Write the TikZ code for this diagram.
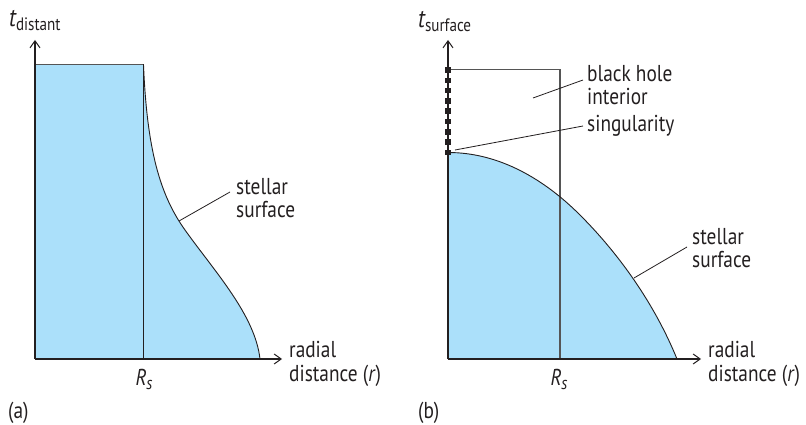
\documentclass[tikz,border=0pt]{standalone}
\usepackage{fontspec}
\setmainfont[FakeStretch=0.84]{PT Sans}
\usetikzlibrary{arrows.meta}
\definecolor{starblue}{RGB}{171,224,250}
\definecolor{ink}{RGB}{35,31,32}
\definecolor{edge}{RGB}{85,85,85}
\newcommand{\lowsub}[1]{\raisebox{-4pt}{\fontsize{18}{18}\selectfont #1}}
\tikzset{
  lbl/.style={inner sep=0pt, align=left, font=\fontsize{23}{23.5}\selectfont, text=ink},
  axis/.style={draw=ink, line width=1.2pt, -{Straight Barb[length=7pt,width=10pt,line width=1pt]}},
  curve/.style={draw=ink, line width=0.9pt},
  leader/.style={draw=ink, line width=0.8pt},
  guide/.style={draw=edge, line width=1.1pt},
  sq/.style={fill=ink, minimum size=5.5pt, inner sep=0pt, draw=none}
}
\begin{document}
\begin{tikzpicture}[x=1pt,y=-1pt]
\useasboundingbox (0,0) rectangle (806,425);
% ---------- panel (a) ----------
\coordinate (Oa) at (35,359);
\coordinate (Ya) at (35,40);
\coordinate (Xa) at (282,359);
\coordinate (TLa) at (35,64.5);
\coordinate (TRa) at (143.5,64.5);
\coordinate (RBa) at (143.5,359);
\coordinate (Ea) at (260,359);
\def\curvea{(TRa) .. controls (147,150) and (160,195) .. (185,230) .. controls (215,272) and (255,315) .. (Ea)}
\fill[starblue] (Oa) -- (TLa) -- \curvea -- cycle;
\draw[guide] (TLa) -- (TRa);
\draw[curve] \curvea;
\draw[curve] (TRa) -- (RBa);
\draw[axis] (Oa) -- (Ya);
\draw[axis] (Oa) -- (Xa);
\node[lbl, anchor=base west] (ta) at (9,27) {\fontsize{26}{26}\selectfont\itshape t\upshape\lowsub{distant}};
\node[lbl, anchor=base] (Rsa) at (144,385) {\itshape R\lowsub{s}};
\node[lbl, anchor=base west] (pa) at (8,418) {(a)};
\node[lbl, anchor=west] (ssa) at (236,198) {stellar\\surface};
\node[lbl, anchor=west] (rda) at (289,364) {radial\\distance (\textit{r})};
\coordinate (ca) at (179,221);
\coordinate (la) at (230,192);
\draw[leader] (ca) -- (la);
% ---------- panel (b) ----------
\coordinate (Ob) at (448,359);
\coordinate (Yb) at (448,40);
\coordinate (Xb) at (701,359);
\coordinate (TLb) at (448,69.5);
\coordinate (TRb) at (560,69.5);
\coordinate (RBb) at (560,359);
\coordinate (Sb) at (448,152.5);
\coordinate (Eb) at (677,359);
\def\curveb{(Sb) .. controls (500,152.5) and (545,180) .. (580,215) .. controls (620,255) and (655,305) .. (Eb)}
\fill[starblue] (Ob) -- \curveb -- cycle;
\draw[guide] (TLb) -- (TRb) -- (RBb);
\draw[curve] \curveb;
\draw[axis] (Ob) -- (Yb);
\draw[axis] (Ob) -- (Xb);
\foreach \i in {0,...,8}{
  \node[sq] (sq\i) at (448,{70+\i*10.3125}) {};
}
\node[lbl, anchor=base west] (tb) at (418,28) {\fontsize{26}{26}\selectfont\itshape t\upshape\lowsub{surface}};
\node[lbl, anchor=base] (Rsb) at (559,385) {\itshape R\lowsub{s}};
\node[lbl, anchor=base west] (pb) at (418,418) {(b)};
\node[lbl, anchor=west] (bh) at (587,85) {black hole\\interior};
\node[lbl, anchor=west] (sg) at (587,126) {singularity};
\node[lbl, anchor=west] (ssb) at (692,248) {stellar\\surface};
\node[lbl, anchor=west] (rdb) at (708,364) {radial\\distance (\textit{r})};
\coordinate (cb1) at (533,98);
\coordinate (lb1) at (583,80);
\coordinate (cb2) at (455,150);
\coordinate (lb2) at (583,126);
\coordinate (cb3) at (634,278);
\coordinate (lb3) at (687,247);
\draw[leader] (cb1) -- (lb1);
\draw[leader] (cb2) -- (lb2);
\draw[leader] (cb3) -- (lb3);
\end{tikzpicture}
\end{document}
